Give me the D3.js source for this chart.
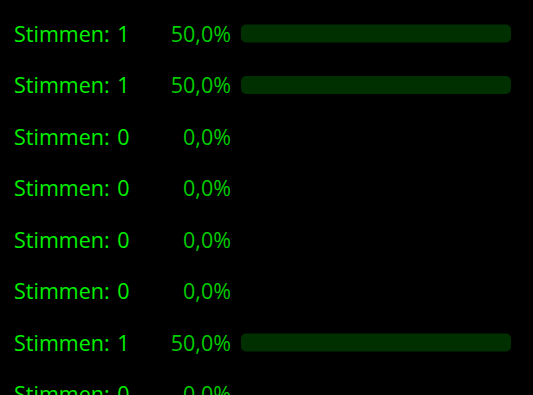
<!DOCTYPE html>
<html lang="de">
<head>
<meta charset="UTF-8">
<title>Stimmen</title>
<script src="https://d3js.org/d3.v7.min.js"></script>
<style>
    body { margin: 0; background: #000; overflow: hidden; }
    svg { display: block; }
    .label { fill: #00f000; font-family: 'Open Sans', sans-serif; font-size: 21.5px; word-spacing: 2px; }
    .pct { fill: #00cc00; font-family: 'Open Sans', sans-serif; font-size: 21.5px; text-anchor: end; }
    .bar { fill: #003000; }
</style>
</head>
<body>
<div id="chart"></div>
<script>
const votes = [1, 1, 0, 0, 0, 0, 1, 0];
const percents = [50.0, 50.0, 0.0, 0.0, 0.0, 0.0, 50.0, 0.0];

const width = 533, height = 395;

const svg = d3.select("#chart").append("svg")
    .attr("width", width)
    .attr("height", height);

const y = d3.scaleLinear()
    .domain([0, 1])
    .range([34, 85.5]);

const x = d3.scaleLinear()
    .domain([0, d3.max(percents)])
    .range([0, 270]);

const fmt = v => d3.format(".1f")(v).replace(".", ",") + "%";

const rows = svg.selectAll("g.row")
    .data(votes.map((v, i) => ({ v, p: percents[i], i })))
    .join("g")
    .attr("class", "row")
    .attr("transform", d => `translate(0, ${y(d.i)})`);

rows.append("text")
    .attr("class", "label")
    .attr("x", 14)
    .attr("dy", "0.36em")
    .text(d => "Stimmen: " + d.v);

rows.append("text")
    .attr("class", "pct")
    .attr("x", 231)
    .attr("dy", "0.36em")
    .text(d => fmt(d.p));

rows.filter(d => d.p > 0).append("rect")
    .attr("class", "bar")
    .attr("x", 241)
    .attr("y", -9.5)
    .attr("height", 18)
    .attr("rx", 5)
    .attr("width", d => x(d.p));
</script>
</body>
</html>
